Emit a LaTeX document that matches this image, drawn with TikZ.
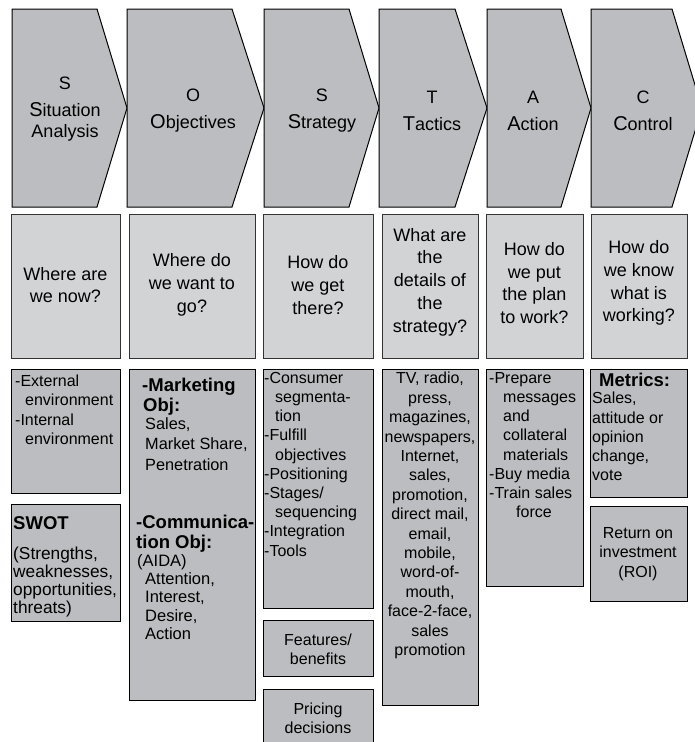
\documentclass[tikz,border=0pt]{standalone}
\usepackage{fontspec}
\setmainfont{Liberation Sans}
\definecolor{chevgray}{HTML}{BCBDC0}
\definecolor{qgray}{HTML}{D2D3D5}
\definecolor{boxgray}{HTML}{BCBDC0}
\begin{document}
\begin{tikzpicture}[x=1pt,y=-1pt,
  chev/.style={draw=black, line width=1pt, fill=chevgray, line join=miter},
  panel/.style={draw=black, line width=1pt, anchor=north west, outer sep=0pt, inner sep=0pt},
  qpanel/.style={panel, fill=qgray, draw=black!80},
  dpanel/.style={panel, fill=boxgray},
  chtext/.style={align=center, inner sep=0pt, font=\fontsize{18}{21}\selectfont},
  qtext/.style={align=center, inner sep=0pt, font=\fontsize{18}{22.7}\selectfont},
  body/.style={align=left, inner sep=0pt, anchor=north west, font=\fontsize{16}{19.2}\selectfont},
  cbody/.style={align=center, inner sep=0pt, font=\fontsize{16}{19.4}\selectfont},
  head/.style={align=left, inner sep=0pt, anchor=north west, font=\fontsize{18.5}{20}\selectfont\bfseries}]
\useasboundingbox (0,0) rectangle (695,742);
\clip (0,0) rectangle (695,742);

% ---- process chevrons ----
\draw[chev] (12,9) -- (97,9) -- (127,108) -- (97,207) -- (12,207) -- cycle;
\draw[chev] (127,9) -- (232,9) -- (264,108) -- (232,207) -- (127,207) -- cycle;
\draw[chev] (264,9) -- (349,9) -- (379,108) -- (349,207) -- (264,207) -- cycle;
\draw[chev] (379,9) -- (455,9) -- (487,108) -- (455,207) -- (379,207) -- cycle;
\draw[chev] (487,9) -- (561,9) -- (591,108) -- (561,207) -- (487,207) -- cycle;
\draw[chev] (591,9) -- (672,9) -- (702,108) -- (672,207) -- (591,207) -- cycle;

\newcommand\initial[1]{{\fontsize{20}{21}\selectfont #1}}
\node[chtext] (tS1) at (65,109) {S\\[6pt]\initial{S}ituation\\Analysis};
\node[chtext] (tO)  at (193,111) {O\\[6pt]\initial{O}bjectives};
\node[chtext] (tS2) at (322,111) {S\\[6pt]\initial{S}trategy};
\node[chtext] (tT)  at (432,111) {T\\[6pt]\initial{T}actics};
\node[chtext] (tA)  at (533,111) {A\\[6pt]\initial{A}ction};
\node[chtext] (tC)  at (643,111) {C\\[6pt]\initial{C}ontrol};

% ---- key questions ----
\node[qpanel, minimum width=109pt, minimum height=144pt] (q1) at (11,214) {};
\node[qpanel, minimum width=126pt, minimum height=144pt] (q2) at (129,214) {};
\node[qpanel, minimum width=110pt, minimum height=144pt] (q3) at (263,214) {};
\node[qpanel, minimum width=96pt, minimum height=144pt] (q4) at (382,214) {};
\node[qpanel, minimum width=97pt, minimum height=144pt] (q5) at (486,214) {};
\node[qpanel, minimum width=96pt, minimum height=144pt] (q6) at (591,214) {};

\node[qtext] (q1t) at (65.5,285) {Where are\\we now?};
\node[qtext] (q2t) at (192,285) {Where do\\we want to\\go?};
\node[qtext] (q3t) at (318,285) {How do\\we get\\there?};
\node[qtext] (q4t) at (430,282) {What are\\the\\details of\\the\\strategy?};
\node[qtext] (q5t) at (534.5,283) {How do\\we put\\the plan\\to work?};
\node[qtext] (q6t) at (639,283) {How do\\we know\\what is\\working?};

% ---- detail panels ----
\node[dpanel, minimum width=109pt, minimum height=124pt] (b1a) at (11,369) {};
\node[dpanel, minimum width=109pt, minimum height=117pt] (b1b) at (11,504) {};
\node[dpanel, minimum width=126pt, minimum height=331pt] (b2)  at (129,369) {};
\node[dpanel, minimum width=110pt, minimum height=239pt] (b3a) at (263,369) {};
\node[dpanel, minimum width=110pt, minimum height=56pt]  (b3b) at (263,620) {};
\node[dpanel, minimum width=110pt, minimum height=80pt]  (b3c) at (263,689) {};
\node[dpanel, minimum width=96pt, minimum height=336pt]  (b4)  at (382,369) {};
\node[dpanel, minimum width=97pt, minimum height=217pt]  (b5)  at (486,369) {};
\node[dpanel, minimum width=97pt, minimum height=128pt]  (b6a) at (590,369) {};
\node[dpanel, minimum width=97pt, minimum height=95pt]   (b6b) at (590,506) {};

% situation analysis
\node[body] (b1at) at (15,375) {-External\\\hspace*{10pt}environment\\-Internal\\\hspace*{10pt}environment};
\node[head] (b1bh) at (13,516) {SWOT};
\node[body, font=\fontsize{17.3}{17.8}\selectfont] (b1bt) at (13,547) {(Strengths,\\weaknesses,\\opportunities,\\threats)};

% objectives
\node[head] (b2h1) at (142,378) {-Marketing\\\hspace*{1pt}Obj:};
\node[body, font=\fontsize{16.3}{20.5}\selectfont] (b2t1) at (145,417) {Sales,\\Market Share,\\Penetration};
\node[head] (b2h2) at (136,515) {-Communica-\\tion Obj:};
\node[body, font=\fontsize{16.5}{18.3}\selectfont] (b2t2) at (137,554) {(AIDA)\\\hspace*{8pt}Attention,\\\hspace*{8pt}Interest,\\\hspace*{8pt}Desire,\\\hspace*{8pt}Action};

% strategy
\node[body] (b3at) at (264,372) {-Consumer\\\hspace*{11pt}segmenta-\\\hspace*{11pt}tion\\-Fulfill\\\hspace*{11pt}objectives\\-Positioning\\-Stages/\\\hspace*{11pt}sequencing\\-Integration\\-Tools};
\node[cbody] (b3bt) at (318,649) {Features/\\benefits};
\node[cbody] (b3ct) at (318,718) {Pricing\\decisions};

% tactics
\node[cbody, anchor=north] (b4t) at (430,372) {TV, radio,\\press,\\magazines,\\newspapers,\\Internet,\\sales,\\promotion,\\direct mail,\\email,\\mobile,\\word-of-\\mouth,\\face-2-face,\\sales\\promotion};

% action
\node[body] (b5t) at (489,372) {-Prepare\\\hspace*{14pt}messages\\\hspace*{14pt}and\\\hspace*{14pt}collateral\\\hspace*{14pt}materials\\-Buy media\\-Train sales\\\hspace*{27pt}force};

% control
\node[head] (b6ah) at (599,372.5) {Metrics:};
\node[body] (b6at) at (592,392) {Sales,\\attitude or\\opinion\\change,\\vote};
\node[cbody] (b6bt) at (638,554) {Return on\\investment\\(ROI)};
\end{tikzpicture}
\end{document}
